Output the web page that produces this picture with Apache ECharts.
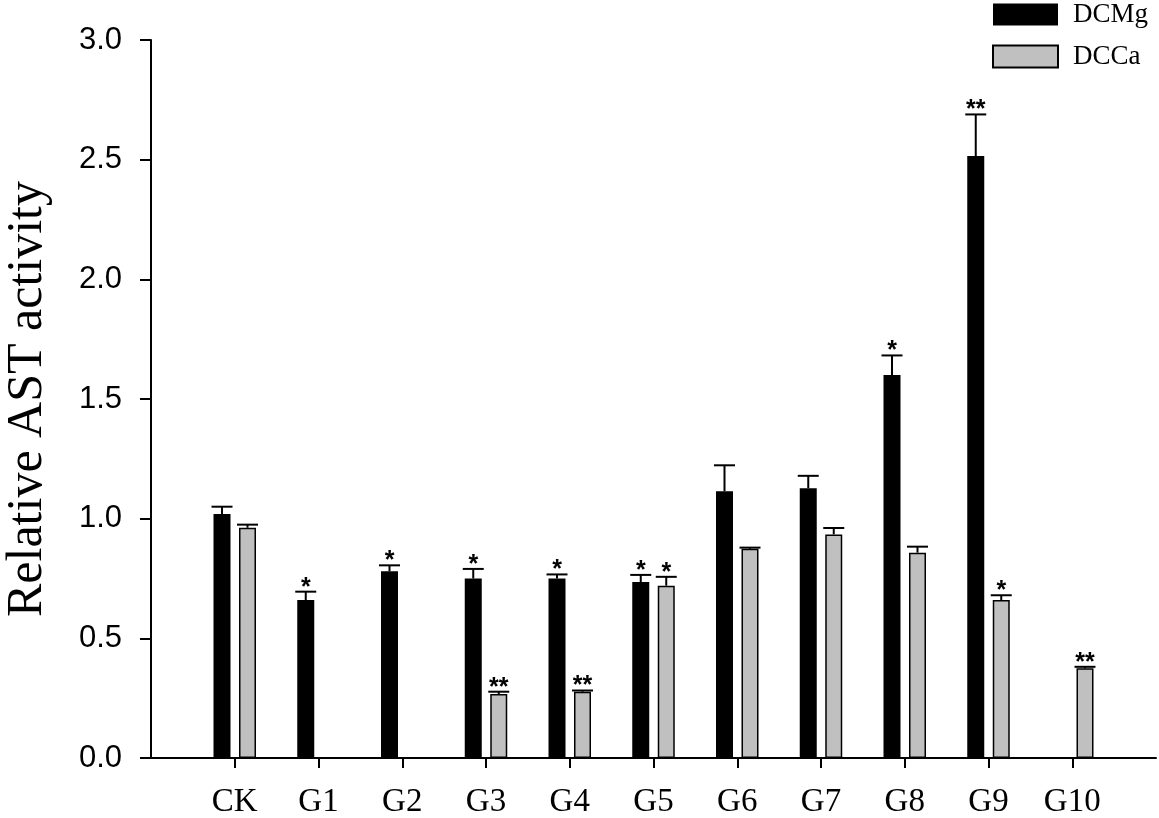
<!DOCTYPE html>
<html>
<head>
<meta charset="utf-8">
<title>Relative AST activity</title>
<script src="https://cdn.jsdelivr.net/npm/echarts@6/dist/echarts.min.js"></script>
<style>
  html, body { margin: 0; padding: 0; background: #fff; }
  #chart { width: 1159px; height: 818px; }
</style>
</head>
<body>
<div id="chart"></div>
<script>
const categories = ['CK', 'G1', 'G2', 'G3', 'G4', 'G5', 'G6', 'G7', 'G8', 'G9', 'G10']

// DCMg (black)
const dcmg = [1.02, 0.66, 0.78, 0.75, 0.75, 0.735, 1.115, 1.127, 1.60, 2.515, null]
const dcmgErr = [0.03, 0.035, 0.025, 0.04, 0.017, 0.03, 0.108, 0.052, 0.082, 0.174, null]
const dcmgSig = ['', '*', '*', '*', '*', '*', '', '', '*', '**', '']

// DCCa (grey)
const dcca = [0.962, null, null, 0.267, 0.277, 0.72, 0.874, 0.934, 0.858, 0.66, 0.375]
const dccaErr = [0.013, null, null, 0.01, 0.005, 0.037, 0.005, 0.027, 0.025, 0.02, 0.006]
const dccaSig = ['', '', '', '**', '**', '*', '', '', '', '*', '**']

const barWidth = 17
const barGap = 0.5
const serif = '"Times New Roman", "Liberation Serif", serif'
const sans = 'Arial, "Liberation Sans", sans-serif'

// category positions 1..n on a value axis running 0..n+1
const positions = categories.map((c, i) => i + 1)

function barData(vals) {
  return vals.map((v, i) => [i + 1, v]).filter(d => d[1] != null)
}

function errorSeries(name, vals, errs, sigs, side) {
  const offset = side * (barWidth + barWidth * barGap) / 2
  return {
    type: 'custom',
    name: name,
    z: 5,
    data: vals.map((v, i) => [i + 1, v, v + errs[i]]).filter(d => d[1] != null),
    renderItem(params, api) {
      const x = api.value(0)
      const base = api.coord([x, api.value(1)])
      const top = api.coord([x, api.value(2)])
      const cx = base[0] + offset
      const sig = sigs[x - 1]
      const children = [
        { type: 'line', shape: { x1: cx, y1: base[1], x2: cx, y2: top[1] }, style: { stroke: '#000', lineWidth: 2 } },
        { type: 'line', shape: { x1: cx - 10.5, y1: top[1], x2: cx + 10.5, y2: top[1] }, style: { stroke: '#000', lineWidth: 2 } }
      ]
      if (sig) {
        children.push({
          type: 'text',
          style: {
            x: cx, y: top[1] - 4, text: sig,
            align: 'center', verticalAlign: 'middle',
            font: 'bold 25px ' + sans, fill: '#000'
          }
        })
      }
      return { type: 'group', children: children }
    }
  }
}

const chart = echarts.init(document.getElementById('chart'))
chart.setOption({
  animation: false,
  backgroundColor: '#fff',
  grid: { left: 151, right: 3, top: 40, bottom: 60, outerBoundsMode: 'none' },
  legend: {
    data: ['DCMg', 'DCCa'],
    orient: 'vertical',
    left: 992,
    top: 1,
    padding: 0,
    itemWidth: 65,
    itemHeight: 22,
    itemGap: 15,
    icon: 'rect',
    selectedMode: false,
    textStyle: { fontFamily: serif, fontSize: 27, color: '#000', padding: [0, 0, 0, 10] }
  },
  xAxis: {
    type: 'value',
    min: 0,
    max: categories.length + 1,
    splitLine: { show: false },
    axisLine: { show: true, onZero: false, lineStyle: { color: '#000', width: 2 } },
    axisTick: { show: true, length: 10, customValues: positions, lineStyle: { color: '#000', width: 2 } },
    axisLabel: {
      customValues: positions,
      formatter: v => categories[v - 1],
      fontFamily: serif,
      fontSize: 33,
      color: '#000',
      margin: 28
    }
  },
  yAxis: {
    type: 'value',
    min: 0,
    max: 3,
    interval: 0.5,
    name: 'Relative AST activity',
    nameLocation: 'middle',
    nameGap: 98,
    nameTextStyle: { fontFamily: serif, fontSize: 50, color: '#000' },
    splitLine: { show: false },
    axisLine: { show: true, onZero: false, lineStyle: { color: '#000', width: 2 } },
    axisTick: { show: true, length: 11, lineStyle: { color: '#000', width: 2 } },
    axisLabel: {
      formatter: v => v.toFixed(1),
      fontFamily: sans,
      fontSize: 31,
      color: '#000',
      margin: 29
    }
  },
  series: [
    {
      name: 'DCMg',
      type: 'bar',
      barWidth: barWidth,
      barGap: (barGap * 100) + '%',
      itemStyle: { color: '#000' },
      data: barData(dcmg)
    },
    {
      name: 'DCCa',
      type: 'bar',
      barWidth: barWidth,
      barGap: (barGap * 100) + '%',
      itemStyle: { color: '#c0c0c0', borderColor: '#000', borderWidth: 1.5 },
      data: barData(dcca)
    },
    errorSeries('DCMg err', dcmg, dcmgErr, dcmgSig, -1),
    errorSeries('DCCa err', dcca, dccaErr, dccaSig, 1)
  ]
})
</script>
</body>
</html>
